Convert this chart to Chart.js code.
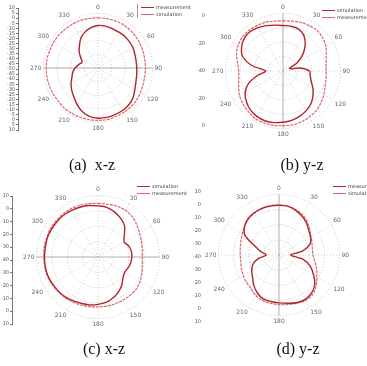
<!DOCTYPE html>
<html>
<head>
<meta charset="utf-8">
<script src="https://cdn.jsdelivr.net/npm/chart.js@4.4.0/dist/chart.umd.min.js"></script>
<style>
  body { margin: 0; background: #fff; width: 367px; height: 366px; position: relative; overflow: hidden; }
  canvas { position: absolute; }
  .cap { position: absolute; font-family: "Liberation Serif", serif; font-size: 16px; color: #111; white-space: pre; transform: translate(-50%, -50%); }
  .leg { position: absolute; font-family: "DejaVu Sans", sans-serif; font-size: 5px; color: #444; line-height: 7px; white-space: nowrap; }
  .leg i { display: inline-block; width: 13px; height: 0; border-top: 1.3px solid; vertical-align: middle; margin-right: 2px; }
</style>
</head>
<body>
<canvas id="axA" width="24" height="130" style="left:6px;top:4px"></canvas>
<canvas id="polA" width="136" height="136" style="left:29px;top:0px"></canvas>
<canvas id="axB" width="22" height="118" style="left:197px;top:12px"></canvas>
<canvas id="polB" width="142" height="142" style="left:211px;top:0px"></canvas>
<canvas id="axC" width="22" height="136" style="left:1px;top:192px"></canvas>
<canvas id="polC" width="150" height="150" style="left:22px;top:182px"></canvas>
<canvas id="axD" width="22" height="138" style="left:193px;top:188px"></canvas>
<canvas id="polD" width="148" height="148" style="left:204px;top:181px"></canvas>

<div class="leg" id="legA" style="left:137px;top:4px;border-left:1px solid #999;padding-left:3px"></div>
<div class="leg" id="legB" style="left:322px;top:7px"></div>
<div class="leg" id="legC" style="left:137px;top:183px"></div>
<div class="leg" id="legD" style="left:333px;top:183px"></div>

<div class="cap" style="left:92px;top:165px">(a)  x-z</div>
<div class="cap" style="left:302px;top:165px">(b) y-z</div>
<div class="cap" style="left:104px;top:349px">(c) x-z</div>
<div class="cap" style="left:298px;top:349px">(d) y-z</div>

<script>
// angle labels (degrees), every 10 deg, only every 30 deg is printed
var angleLabels = ['0','10','20','30','40','50','60','70','80','90','100','110','120','130','140','150','160','170',
  '180','190','200','210','220','230','240','250','260','270','280','290','300','310','320','330','340','350'];

// left-hand level scales (dB)
var levelsA = ['10','5','0','-5','-10','-15','-20','-25','-30','-35','-40','-45','-50','-45','-40','-35','-30','-25','-20','-15','-10','-5','0','5','10'];
var levelsB = ['0','-20','-40','-20','0'];
var levelsC = ['10','0','-10','-20','-30','-40','-30','-20','-10','0','10'];
var levelsD = ['10','0','-10','-20','-30','-40','-30','-20','-10','0','10'];

// (a) x-z
var measA = [-8.8,-8.8,-9.2,-9.6,-9.6,-10,-10.4,-11.2,-11.6,-11.6,-11.2,-10.4,-8.8,-6.4,-4.8,-4,-3.6,-3.2,
  -3.2,-4,-6,-9.2,-12.4,-14.8,-17.2,-19.6,-21.2,-23.2,-25.6,-27.6,-25.6,-22,-18.8,-14.8,-12,-10];
var simA = [-3.2,-3.2,-3.2,-3.2,-3.6,-4,-4.4,-4.8,-5.2,-5.2,-5.2,-4.8,-4,-3.2,-2.8,-2.4,-2,-1.6,
  -1.6,-1.6,-1.6,-1.6,-1.6,-2,-2,-2,-2,-2,-2,-2.4,-2.4,-2.4,-2.8,-2.8,-2.8,-3.2];

// (b) y-z
var simB = [-8.4,-8.4,-8.8,-11.2,-16,-22,-28.8,-35.2,-28,-21.6,-20.8,-19.2,-16,-12.8,-10,-8,-6.4,-5.2,
  -4.4,-3.6,-3.2,-3.6,-4.8,-6.8,-9.6,-14.4,-22,-28,-18,-10,-6.8,-4.8,-4.4,-5.2,-6.4,-7.6];
var measB = [-5.2,-4.8,-4,-3.6,-3.2,-4,-5.6,-8,-9.6,-10,-9.6,-8.8,-7.2,-5.6,-4,-3.2,-2.4,-2,
  -2,-1.6,-1.6,-1.6,-2.8,-4,-5.2,-7.2,-8.8,-9.2,-8,-5.6,-4,-3.2,-3.2,-3.6,-4,-4.8];

// (c) x-z
var simC = [-6.8,-7.2,-8.8,-10.8,-13.2,-17.6,-20.4,-18.8,-18,-18,-18.4,-19.2,-20,-18.8,-16,-13.6,-11.6,-10,
  -9.2,-8.4,-8,-7.2,-6.4,-6,-5.6,-5.2,-5.2,-5.2,-5.2,-4.8,-4.8,-4.8,-4.8,-5.2,-5.6,-6];
var measC = [-5.2,-5.2,-4.8,-4.8,-5.6,-7.2,-8.8,-10,-10.8,-11.2,-10.8,-9.6,-8.4,-7.6,-7.6,-7.6,-7.6,-7.6,
  -7.6,-7.2,-6.8,-6.4,-6,-5.6,-5.2,-4.8,-4.8,-4.8,-4.4,-4.4,-4,-4,-4,-4,-4.4,-4.8];

// (d) y-z
var measD = [-7.2,-7.2,-8.4,-10,-12,-14.4,-16,-18,-24,-32.4,-24,-18,-13.6,-9.2,-6.8,-6,-6.4,-7.6,
  -8.4,-8.8,-9.2,-11.2,-14,-17.2,-19.2,-21.6,-26,-31.6,-28,-23.2,-14,-10.4,-8.4,-7.6,-7.2,-7.2];
var simD = [-6.8,-7.2,-8,-9.2,-11.2,-13.6,-15.6,-16.8,-17.6,-17.6,-16,-13.6,-11.2,-8,-5.6,-5.2,-6,-6.8,
  -7.2,-7.6,-8,-9.2,-11.2,-12,-12.8,-13.6,-14.4,-14.4,-14,-13.2,-12,-10.4,-8.8,-8,-7.2,-6.8];

var darkRed = '#b0262c';
var lightRed = '#d9666a';

function polarChart(id, series, mainAxis) {
  // mainAxis: index pair of the solid reference line (0/18 vertical, 9/27 horizontal)
  return new Chart(document.getElementById(id), {
    type: 'radar',
    data: {
      labels: angleLabels,
      datasets: series.map(function (s) {
        return {
          label: s.name,
          data: s.data,
          borderColor: s.color,
          borderWidth: s.width,
          borderDash: s.dash,
          pointRadius: 0,
          fill: false,
          tension: 0.3
        };
      })
    },
    options: {
      responsive: false,
      animation: false,
      devicePixelRatio: 1,
      plugins: { legend: { display: false }, tooltip: { enabled: false } },
      scales: {
        r: {
          min: -40,
          max: 0,
          ticks: { display: false, stepSize: 10 },
          grid: { circular: true, color: '#b5b5b5', lineWidth: 0.8, borderDash: [1, 2] },
          border: { dash: [1, 2] },
          angleLines: {
            color: function (ctx) { return mainAxis.indexOf(ctx.index) >= 0 ? '#999' : '#c4c4c4'; },
            lineWidth: function (ctx) { return ctx.index % 3 === 0 ? 0.8 : 0; },
            borderDash: function (ctx) { return mainAxis.indexOf(ctx.index) >= 0 ? [] : [1, 2]; }
          },
          pointLabels: {
            font: { size: 6, family: 'DejaVu Sans' },
            color: '#666',
            padding: 2,
            callback: function (label, i) { return i % 3 === 0 ? label : ''; }
          }
        }
      }
    }
  });
}

function axisChart(id, labels, showLine) {
  return new Chart(document.getElementById(id), {
    type: 'line',
    data: { labels: [''], datasets: [] },
    options: {
      responsive: false,
      animation: false,
      devicePixelRatio: 1,
      layout: { padding: { top: 3, bottom: 3 } },
      plugins: { legend: { display: false }, tooltip: { enabled: false } },
      scales: {
        x: { display: false },
        y: {
          type: 'category',
          labels: labels,
          offset: false,
          grid: { drawOnChartArea: false, tickLength: 2, color: showLine ? '#777' : 'rgba(0,0,0,0)' },
          border: { display: showLine, color: '#777' },
          ticks: { font: { size: 5, family: 'DejaVu Sans' }, color: '#555', padding: 1, autoSkip: false }
        }
      }
    }
  });
}

function legend(id, chart) {
  var box = document.getElementById(id);
  chart.data.datasets.forEach(function (ds) {
    var row = document.createElement('div');
    var line = document.createElement('i');
    line.style.borderTopColor = ds.borderColor;
    row.appendChild(line);
    row.appendChild(document.createTextNode(ds.label));
    box.appendChild(row);
  });
}

axisChart('axA', levelsA, true);
axisChart('axB', levelsB, false);
axisChart('axC', levelsC, true);
axisChart('axD', levelsD, false);

var a = polarChart('polA', [
  { name: 'measurement', data: measA, color: darkRed, width: 1.4, dash: [] },
  { name: 'simulation', data: simA, color: lightRed, width: 1.2, dash: [3, 1] }
], [9, 27]);
var b = polarChart('polB', [
  { name: 'simulation', data: simB, color: darkRed, width: 1.4, dash: [] },
  { name: 'measurement', data: measB, color: lightRed, width: 1.2, dash: [3, 1] }
], [0, 18]);
var c = polarChart('polC', [
  { name: 'simulation', data: simC, color: darkRed, width: 1.4, dash: [] },
  { name: 'measurement', data: measC, color: lightRed, width: 1.2, dash: [3, 1] }
], [9, 27]);
var d = polarChart('polD', [
  { name: 'measurement', data: measD, color: darkRed, width: 1.4, dash: [] },
  { name: 'simulation', data: simD, color: lightRed, width: 1.2, dash: [3, 1] }
], [0, 18]);

legend('legA', a);
legend('legB', b);
legend('legC', c);
legend('legD', d);
</script>
</body>
</html>
